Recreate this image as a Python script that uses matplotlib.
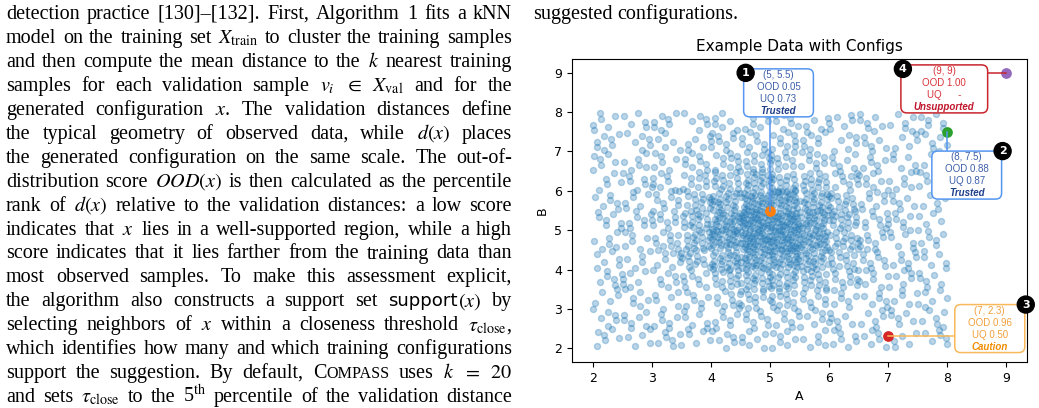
import numpy as np
import matplotlib.pyplot as plt
from matplotlib.patches import FancyBboxPatch, Circle
from matplotlib.lines import Line2D
from matplotlib.transforms import IdentityTransform

plt.rcParams['mathtext.fontset'] = 'stix'

W, H = 1039, 408
fig = plt.figure(figsize=(W / 100, H / 100), dpi=100)
renderer = fig.canvas.get_renderer()
ident = IdentityTransform()

# ---- paper text (left column) ----
para_lines = [
    "detection practice [130]–[132]. First, Algorithm 1 fits a kNN",
    r"model on the training set $X_{\mathrm{train}}$ to cluster the training samples",
    r"and then compute the mean distance to the $k$ nearest training",
    r"samples for each validation sample $v_i$ $\in$ $X_{\mathrm{val}}$ and for the",
    r"generated configuration $x$. The validation distances define",
    r"the typical geometry of observed data, while $d(x)$ places",
    r"the generated configuration on the same scale. The out-of-",
    r"distribution score $OOD(x)$ is then calculated as the percentile",
    r"rank of $d(x)$ relative to the validation distances: a low score",
    r"indicates that $x$ lies in a well-supported region, while a high",
    r"score indicates that it lies farther from the training data than",
    r"most observed samples. To make this assessment explicit,",
    r"the algorithm also constructs a support set SUPPORTX by",
    r"selecting neighbors of $x$ within a closeness threshold $\tau_{\mathrm{close}}$,",
    r"which identifies how many and which training configurations",
    r"support the suggestion. By default, COMPASS uses $k$ $=$ $20$",
    r"and sets $\tau_{\mathrm{close}}$ to the 5$^{\mathrm{th}}$ percentile of the validation distance",
]
right_col_line = "suggested configurations."

serif = 'Liberation Serif'
sans = 'DejaVu Sans'
body_size = 14.5


def put_line(text, y_px, x0=6, x1=512, justify=True):
    pieces = []
    for tok in text.split(' '):
        if tok == 'COMPASS':
            parts = [('C', body_size, serif), ('OMPASS', body_size * 0.8, serif)]
        elif tok == 'SUPPORTX':
            parts = [('support', body_size * 0.9, sans), ('$(x)$', body_size, serif)]
        else:
            parts = [(tok, body_size, serif)]
        txts = [fig.text(0, 0, s, fontsize=fs, family=fam, va='baseline')
                for s, fs, fam in parts]
        pieces.append(txts)
    widths = [[t.get_window_extent(renderer).width for t in txts] for txts in pieces]
    total = sum(sum(w) for w in widths)
    if justify and len(pieces) > 1:
        gap = (x1 - x0 - total) / (len(pieces) - 1)
    else:
        gap = 4.5
    x = x0
    for txts, ws in zip(pieces, widths):
        for t, w in zip(txts, ws):
            t.set_position((x / W, 1 - y_px / H))
            x += w
        x += gap


for i, line in enumerate(para_lines):
    put_line(line, 19 + i * 23.95)
put_line(right_col_line, 19, x0=533, justify=False)

# ---- chart data ----
# counts of background samples per 0.5 x 0.5 cell, A from 2 to 8, B from 8 (top row) down to 2
cell_counts = [
    [6, 5, 7, 6, 6, 7, 8, 6, 5, 7, 6, 7],
    [7, 6, 5, 6, 8, 8, 9, 7, 6, 6, 5, 6],
    [6, 6, 6, 8, 10, 12, 12, 9, 7, 6, 6, 5],
    [5, 7, 7, 10, 15, 19, 18, 15, 10, 7, 6, 6],
    [6, 6, 9, 14, 23, 32, 31, 23, 13, 8, 6, 6],
    [7, 7, 10, 18, 31, 44, 42, 30, 17, 9, 7, 5],
    [6, 6, 10, 17, 32, 43, 41, 31, 16, 9, 6, 6],
    [6, 5, 8, 14, 23, 31, 30, 22, 13, 8, 7, 6],
    [6, 6, 7, 9, 14, 19, 18, 14, 10, 7, 6, 6],
    [5, 6, 6, 7, 10, 11, 12, 9, 7, 6, 5, 6],
    [6, 7, 6, 6, 7, 8, 8, 7, 6, 6, 6, 6],
    [6, 5, 6, 6, 6, 7, 7, 6, 7, 6, 5, 6],
]
cell_a0 = 2.0
cell_b_top = 8.0
cell_size = 0.5

cfg_a = [5, 8, 7, 9]
cfg_b = [5.5, 7.5, 2.3, 9]
cfg_ood = [0.05, 0.88, 0.96, 1.00]
cfg_uq = [0.73, 0.87, 0.50, None]
cfg_status = ['Trusted', 'Trusted', 'Caution', 'Unsupported']
cfg_colors = ['tab:orange', 'tab:green', 'tab:red', 'tab:purple']

# spread each cell's count evenly inside the cell
pts_a, pts_b = [], []
k = 0
g1, g2 = 0.7548776662, 0.5698402910
for r, row in enumerate(cell_counts):
    for c, n in enumerate(row):
        for _ in range(n):
            k += 1
            pts_a.append(cell_a0 + cell_size * (c + (0.5 + g1 * k) % 1))
            pts_b.append(cell_b_top - cell_size * (r + (0.5 + g2 * k) % 1))

ax = fig.add_axes([572 / W, (H - 362) / H, (1027 - 572) / W, (362 - 59) / H])
ax.scatter(pts_a, pts_b, s=19, alpha=0.3, color='tab:blue', zorder=2)
for a, b, col in zip(cfg_a, cfg_b, cfg_colors):
    ax.scatter([a], [b], s=45, color=col, zorder=5)

ax.set_xlim(1.65, 9.35)
ax.set_ylim(1.65, 9.35)
ax.set_xticks(range(2, 10))
ax.set_yticks(range(2, 10))
ax.tick_params(labelsize=9)
ax.set_xlabel('A', fontsize=9)
ax.set_ylabel('B', fontsize=9)
ax.set_title('Example Data with Configs', fontsize=11, pad=6)

# ---- annotation boxes ----
box_center = [(5.145, 8.49), (8.33, 6.40), (8.72, 2.50), (7.95, 8.59)]
box_side = ['bottom', 'top', 'left', 'right']
badge_corner = ['tl', 'tr', 'tr', 'tl']
styles = {
    'Trusted': ('#5596f0', '#3d5fa8', '#1e3f8a'),
    'Caution': ('#f8b95a', '#f2a03d', '#f08c00'),
    'Unsupported': ('#c8252c', '#d8343a', '#c0152a'),
}

fig.canvas.draw()
for i in range(4):
    edge, tcol, scol = styles[cfg_status[i]]
    uq = '-' if cfg_uq[i] is None else f'{cfg_uq[i]:.2f}'
    sep = '      ' if cfg_uq[i] is None else ' '
    lines = [f'({cfg_a[i]:g}, {cfg_b[i]:g})', f'OOD {cfg_ood[i]:.2f}', f'UQ{sep}{uq}', cfg_status[i]]
    cx, cy = ax.transData.transform(box_center[i])
    txts = []
    for j, s in enumerate(lines):
        kw = dict(fontweight='bold', fontstyle='italic', color=scol) if j == 3 else dict(color=tcol)
        t = fig.text(cx, cy + (1.5 - j) * 12, s, transform=ident, ha='center', va='center',
                     fontsize=7, family='Liberation Sans', zorder=7, **kw)
        txts.append(t)
    exts = [t.get_window_extent(renderer) for t in txts]
    x0 = min(e.x0 for e in exts) - 13
    x1 = max(e.x1 for e in exts) + 13
    y0 = min(e.y0 for e in exts) - 1
    y1 = max(e.y1 for e in exts) + 1
    box = FancyBboxPatch((x0, y0), x1 - x0, y1 - y0, boxstyle='round,pad=0,rounding_size=6',
                         transform=ident, facecolor='white', edgecolor=edge, linewidth=1.1, zorder=6)
    fig.add_artist(box)

    px, py = ax.transData.transform((cfg_a[i], cfg_b[i]))
    if box_side[i] == 'bottom':
        seg = ([px, px], [py, y0])
    elif box_side[i] == 'top':
        seg = ([px, px], [py, y1])
    elif box_side[i] == 'left':
        seg = ([px, x0], [py, py])
    else:
        seg = ([x1, px], [py, py])
    fig.add_artist(Line2D(seg[0], seg[1], transform=ident, color=edge, linewidth=1.1, zorder=4))

    if badge_corner[i] == 'tl':
        bx, by = x0 + 2, y1 - 4
    else:
        bx, by = x1 + 1, y1
    fig.add_artist(Circle((bx, by), 8.5, transform=ident, facecolor='black', edgecolor='black', zorder=8))
    fig.text(bx, by, str(i + 1), transform=ident, ha='center', va='center', color='white',
             fontsize=8, fontweight='bold', family='DejaVu Sans', zorder=9)

fig.savefig('out.png', dpi=100)
